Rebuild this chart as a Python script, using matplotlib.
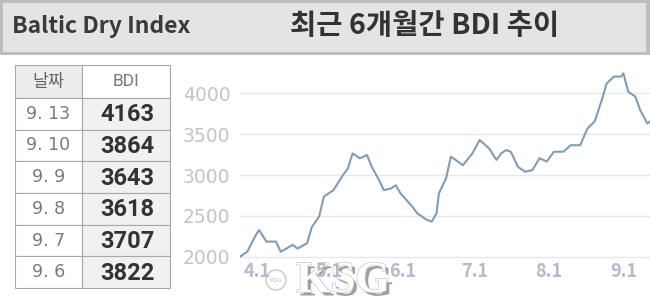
import matplotlib
matplotlib.use("Agg")
import matplotlib.pyplot as plt
import matplotlib.patches as mpatches
import matplotlib.patheffects as pe

# ===== Data =====
# BDI trend, x = days from Apr 1
days = [-7, -4, 0, 1, 4, 8, 10, 15, 17, 21, 23, 26, 28, 32, 36, 38, 40, 43, 46, 48,
        51, 53, 56, 58, 60, 65, 67, 71, 73, 75, 76, 79, 81, 83, 86, 90, 93, 97, 100, 102,
        104, 106, 109, 112, 115, 118, 121, 124, 128, 131, 135, 138, 141, 144, 146, 149, 152, 153, 155, 158,
        160, 163, 164]
bdi = [2000, 2060, 2285, 2325, 2185, 2185, 2060, 2145, 2100, 2165, 2365, 2490, 2735, 2815, 3000, 3080, 3265, 3205, 3245, 3100,
       2940, 2815, 2835, 2875, 2775, 2610, 2530, 2450, 2430, 2530, 2775, 2960, 3225, 3185, 3120, 3265, 3430, 3325, 3185, 3265,
       3305, 3285, 3100, 3040, 3060, 3205, 3165, 3285, 3285, 3365, 3365, 3570, 3655, 3920, 4120, 4205, 4205, 4245, 4020, 3960,
       3795, 3630, 3655]

month_ticks = [0, 30, 61, 91, 122, 153]
month_labels = ["4.1", "5.1", "6.1", "7.1", "8.1", "9.1"]
y_ticks = [2000, 2500, 3000, 3500, 4000]

table_dates = ["9. 13", "9. 10", "9. 9", "9. 8", "9. 7", "9. 6"]
table_bdi = ["4163", "3864", "3643", "3618", "3707", "3822"]

KR = ["Noto Sans CJK KR", "DejaVu Sans"]

W, H = 650, 306
fig = plt.figure(figsize=(W / 100, H / 100), dpi=100)
fig.patch.set_facecolor("white")

# background layer in pixel coords
bg = fig.add_axes([0, 0, 1, 1])
bg.set_xlim(0, W)
bg.set_ylim(H, 0)
bg.axis("off")

# header band
bg.add_patch(mpatches.Rectangle((0, 0), W, 55, facecolor="#bdbdbd", edgecolor="none"))
bg.add_patch(mpatches.Rectangle((3, 3), W - 7, 49, facecolor="#e4e4e4", edgecolor="none"))
bg.text(12, 27, "Baltic Dry Index", fontsize=16.5, fontweight="bold", color="#3a3a3a",
        family=KR, va="center", ha="left")
bg.text(425, 26, "최근 6개월간 BDI 추이", fontsize=20.5, fontweight="bold", color="#333333",
        family=KR, va="center", ha="center")

# table
tx0, tx1, tx2 = 15, 82, 170
ty0, ty1, ty_end = 65, 98, 288
row_h = (ty_end - ty1) / len(table_dates)
border = "#a8a8a8"
bg.add_patch(mpatches.Rectangle((tx0, ty0), tx1 - tx0, ty1 - ty0, facecolor="#ededed", edgecolor=border, lw=0.8))
bg.add_patch(mpatches.Rectangle((tx1, ty0), tx2 - tx1, ty1 - ty0, facecolor="white", edgecolor=border, lw=0.8))
bg.text((tx0 + tx1) / 2, (ty0 + ty1) / 2, "날짜", fontsize=12.5, color="#666666",
        family=KR, ha="center", va="center")
bg.text((tx1 + tx2) / 2, (ty0 + ty1) / 2, "BDI", fontsize=12.5, color="#777777",
        family="Roboto", ha="center", va="center")
for i, (d, v) in enumerate(zip(table_dates, table_bdi)):
    y0 = ty1 + i * row_h
    bg.add_patch(mpatches.Rectangle((tx0, y0), tx1 - tx0, row_h, facecolor="white", edgecolor=border, lw=0.8))
    bg.add_patch(mpatches.Rectangle((tx1, y0), tx2 - tx1, row_h, facecolor="#f1f1f1", edgecolor=border, lw=0.8))
    bg.text((tx0 + tx1) / 2, y0 + row_h / 2, d, fontsize=12.5, color="#7a7a7a",
            family="DejaVu Sans", ha="center", va="center")
    bg.text((tx1 + tx2) / 2 + 1, y0 + row_h / 2 + 1, v, fontsize=17, fontweight="bold", color="#333333",
            family="Roboto", ha="center", va="center")

# KSG watermark (under the chart, so tick labels stay on top)
bg.add_patch(mpatches.Circle((276, 280), 10, facecolor="white", edgecolor="#cfcfcf", lw=1.2))
bg.text(276, 280, "KSG", fontsize=4.5, color="#c0c0c0", ha="center", va="center")
bg.text(343, 281, "KSG", fontsize=32, fontweight="bold", color="white",
        family="Liberation Serif", ha="center", va="center",
        path_effects=[pe.withSimplePatchShadow(offset=(2.5, -2.5), shadow_rgbFace="#808080", alpha=0.75),
                      pe.Stroke(linewidth=1.0, foreground="#c8c8c8"), pe.Normal()])

# line chart
ax = fig.add_axes([240 / W, (H - 262) / H, 410 / W, 197 / H])
ax.set_facecolor("none")
ax.plot(days, bdi, color="#7f9db6", lw=1.5, solid_joinstyle="round")
ax.set_xlim(-7, 164.1)
ax.set_ylim(1935, 4347)
ax.set_yticks(y_ticks)
ax.set_yticklabels([str(v) for v in y_ticks], fontsize=13.5, color="#c4c4c4", family="DejaVu Sans")
ax.set_xticks(month_ticks)
ax.set_xticklabels(month_labels, fontsize=13, fontweight="bold", color="#b9b6d2", family=KR)
ax.tick_params(axis="y", length=0, pad=7)
ax.tick_params(axis="x", length=0, pad=0)
ax.yaxis.grid(True, color="#e8e8e8", lw=1)
ax.set_axisbelow(True)
for s in ax.spines.values():
    s.set_visible(False)

fig.savefig("out.png", dpi=100)
